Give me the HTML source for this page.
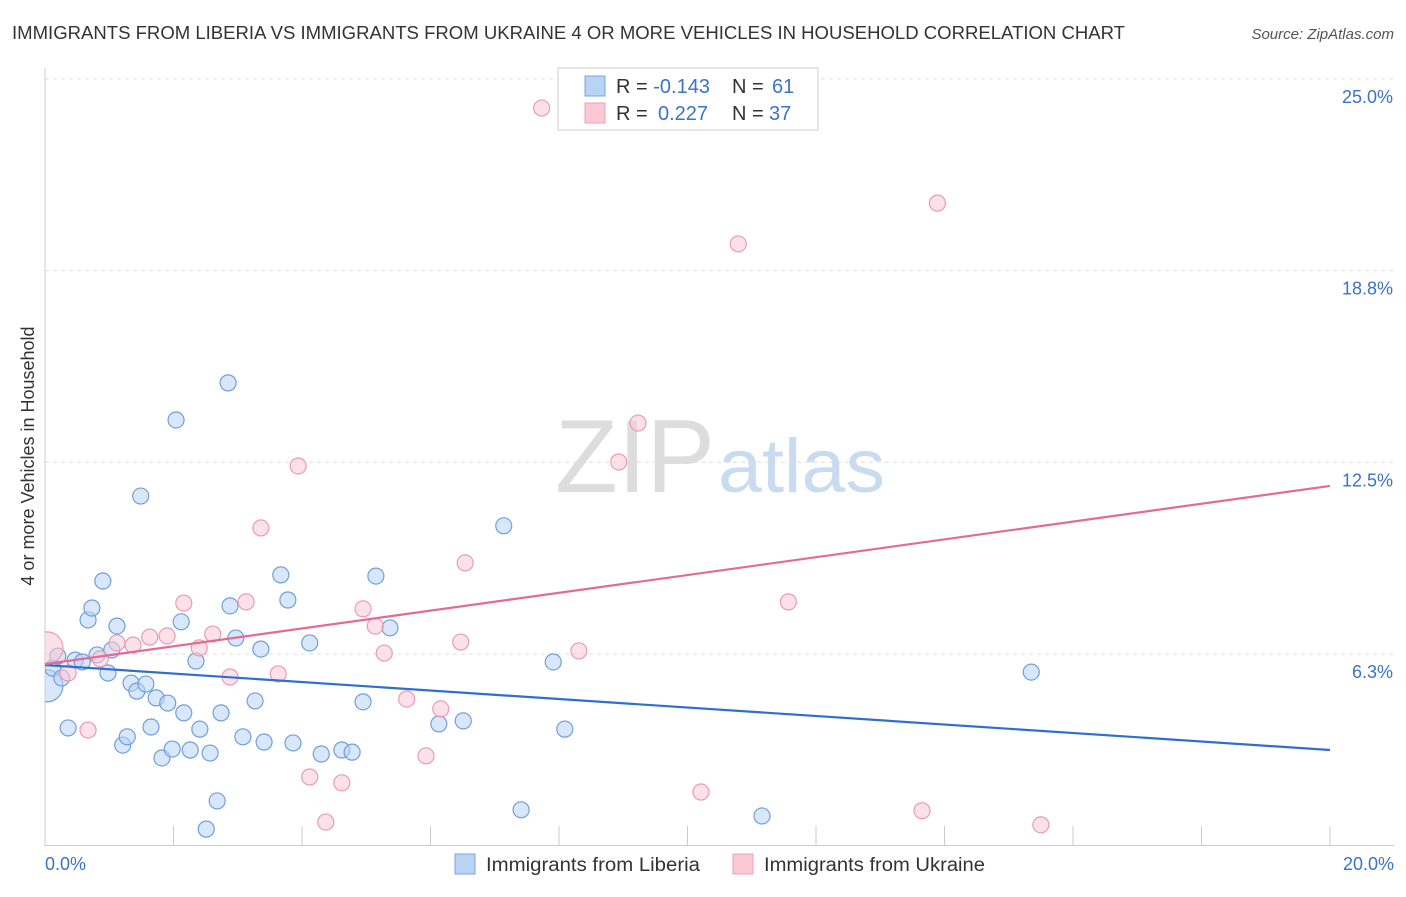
<!DOCTYPE html>
<html><head><meta charset="utf-8"><style>
body{margin:0;background:#fff;font-family:"Liberation Sans",sans-serif;}
svg text{font-family:"Liberation Sans",sans-serif;}
</style></head><body>
<svg id="chart" width="1406" height="892" viewBox="0 0 1406 892">
<text x="12" y="39" font-size="18" fill="#333" textLength="1113" lengthAdjust="spacingAndGlyphs">IMMIGRANTS FROM LIBERIA VS IMMIGRANTS FROM UKRAINE 4 OR MORE VEHICLES IN HOUSEHOLD CORRELATION CHART</text>
<text x="1394" y="39" font-size="15" fill="#555" font-style="italic" text-anchor="end">Source: ZipAtlas.com</text>
<text x="555" y="492" font-size="104" fill="#ddd" textLength="160" lengthAdjust="spacingAndGlyphs" font-family="Liberation Serif">ZIP</text>
<text x="718" y="492" font-size="76" fill="#c9dbf0" textLength="167" lengthAdjust="spacingAndGlyphs">atlas</text>
<text transform="translate(34,456) rotate(-90)" font-size="18" fill="#333" text-anchor="middle">4 or more Vehicles in Household</text>
<g id="grid"></g><g id="marks"></g>
<g>
<rect x="558" y="68" width="260" height="62" fill="#fff" stroke="#ccc"/>
<rect x="585" y="76" width="20" height="20" fill="#b9d3f5" stroke="#7aa6e0"/>
<rect x="585" y="103" width="20" height="20" fill="#fbc8d6" stroke="#eca1b8"/>
<text x="616" y="93" font-size="20" fill="#333">R = <tspan fill="#3a73c8">-0.143</tspan><tspan x="732">N = </tspan><tspan fill="#3a73c8" x="772">61</tspan></text>
<text x="616" y="120" font-size="20" fill="#333">R = <tspan fill="#3a73c8" x="658">0.227</tspan><tspan x="732">N = </tspan><tspan fill="#3a73c8" x="769">37</tspan></text>
</g>
<g>
<rect x="455" y="854" width="20" height="20" fill="#b9d3f5" stroke="#7aa6e0"/>
<text x="486" y="871" font-size="19" fill="#333" textLength="214" lengthAdjust="spacingAndGlyphs">Immigrants from Liberia</text>
<rect x="733" y="854" width="20" height="20" fill="#fbc8d6" stroke="#eca1b8"/>
<text x="764" y="871" font-size="19" fill="#333" textLength="221" lengthAdjust="spacingAndGlyphs">Immigrants from Ukraine</text>
</g>
</svg>
<script>
const yTicks=[6.25,12.5,18.75,25];
const yTickLabels=["6.3%","12.5%","18.8%","25.0%"];
const xTickLabels=["0.0%","20.0%"];
const liberiaX=[0.03,0.12,0.20,0.26,0.36,0.47,0.58,0.67,0.73,0.81,0.90,0.98,1.04,1.12,1.21,1.28,1.34,1.43,1.49,1.57,1.65,1.73,1.82,1.91,1.98,2.04,2.12,2.16,2.26,2.35,2.41,2.51,2.57,2.68,2.74,2.85,2.88,2.97,3.08,3.27,3.36,3.41,3.67,3.78,3.86,4.12,4.30,4.62,4.78,4.95,5.15,5.37,6.13,6.51,7.14,7.41,7.91,8.09,11.16,15.35];
const liberiaY=[5.21,5.79,6.18,5.47,3.84,6.05,5.99,7.36,7.75,6.22,8.63,5.63,6.38,7.16,3.28,3.55,5.30,5.04,11.40,5.27,3.87,4.82,2.86,4.65,3.15,13.88,7.30,4.33,3.12,6.02,3.80,0.54,3.02,1.46,4.33,15.09,7.82,6.77,3.55,4.72,6.41,3.38,8.83,8.01,3.35,6.61,2.99,3.12,3.05,4.69,8.79,7.10,3.97,4.07,10.43,1.17,5.99,3.80,0.97,5.66];
const ukraineX=[0.03,0.36,0.67,0.86,1.12,1.37,1.63,1.90,2.16,2.40,2.61,2.88,3.13,3.36,3.63,3.94,4.12,4.37,4.62,4.95,5.14,5.28,5.63,5.93,6.16,6.47,6.54,7.73,8.31,8.93,9.23,10.21,10.79,11.57,13.65,13.89,15.50];
const ukraineY=[6.45,5.63,3.77,6.09,6.61,6.54,6.80,6.84,7.91,6.45,6.90,5.50,7.95,10.36,5.60,12.38,2.24,0.77,2.05,7.72,7.16,6.28,4.78,2.93,4.46,6.64,9.22,24.05,6.35,12.51,13.78,1.75,19.62,7.95,1.14,20.95,0.68];
const liberiaTrend=[5.89,3.12];
const ukraineTrend=[5.92,11.73];
const NS="http://www.w3.org/2000/svg";
const xS=v=>45+v/20*1285;
const yS=v=>845.7-v/6.25*191.7;
function mk(tag,attrs,parent){const e=document.createElementNS(NS,tag);for(const k in attrs)e.setAttribute(k,attrs[k]);parent.appendChild(e);return e;}
const grid=document.getElementById('grid'),marks=document.getElementById('marks');
yTicks.forEach((t,i)=>{
 const l=mk('line',{x1:45,x2:1394,y1:yS(t),y2:yS(t),stroke:'#ddd','stroke-dasharray':'4,4'},grid);
 
 
 const tx=mk('text',{x:1393,y:yS(t)+24,'font-size':18,fill:'#3a73c8','text-anchor':'end'},grid);
 tx.textContent=yTickLabels[i];
 
 
});
const ax=mk('line',{x1:45,x2:45,y1:68,y2:846,stroke:'#ccc'},grid);


const bx=mk('line',{x1:45,x2:1394,y1:845.5,y2:845.5,stroke:'#ccc'},grid);


for(let i=0;i<=10;i++){const tk=mk('line',{x1:xS(i*2),x2:xS(i*2),y1:826,y2:846,stroke:'#ccc'},grid);
 
 }
[[0,'start',45],[1,'end',1394]].forEach(([i,a,x])=>{const t=mk('text',{x:x,y:870,'font-size':18,fill:'#3a73c8','text-anchor':a},grid);t.textContent=xTickLabels[i];
 
 });
mk('clipPath',{id:'plotclip'},marks).appendChild(document.createElementNS(NS,'rect'));
const cr=marks.querySelector('#plotclip rect');cr.setAttribute('x',45);cr.setAttribute('y',60);cr.setAttribute('width',1360);cr.setAttribute('height',800);
const pg=mk('g',{'clip-path':'url(#plotclip)'},marks);
function pts(X,Y,fill,stroke,name){X.forEach((x,i)=>{const r=i===0?16:8;
 const c=mk('circle',{cx:xS(x),cy:yS(Y[i]),r:r,fill:fill,'fill-opacity':0.55,stroke:stroke,'stroke-width':1.2},pg);
 
 });}
pts(liberiaX,liberiaY,'#b9d3f5','#6f9fdc','liberia-point');
pts(ukraineX,ukraineY,'#fbc8d6','#eb9ab3','ukraine-point');
const l1=mk('line',{x1:xS(0),y1:yS(liberiaTrend[0]),x2:xS(20),y2:yS(liberiaTrend[1]),stroke:'#2f6fcf','stroke-width':2.2},marks);


const l2=mk('line',{x1:xS(0),y1:yS(ukraineTrend[0]),x2:xS(20),y2:yS(ukraineTrend[1]),stroke:'#e56a93','stroke-width':2.2},marks);


</script>
</body></html>
